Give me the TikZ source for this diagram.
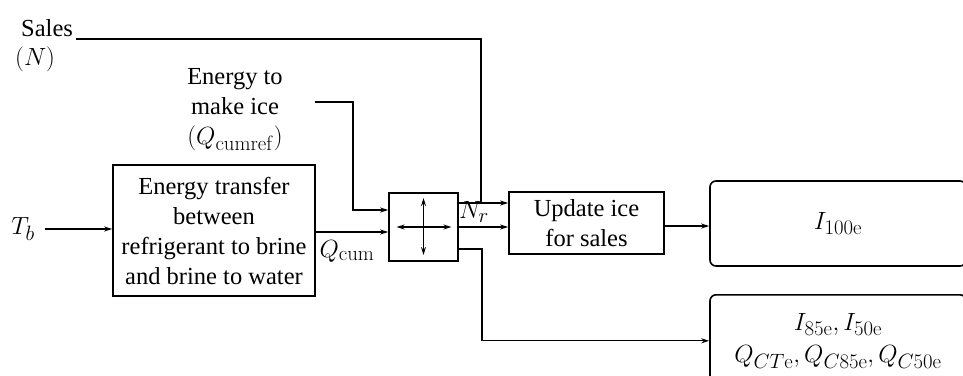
\documentclass[tikz,border=0pt]{standalone}
\usepackage[no-math]{fontspec}
\setmainfont{Liberation Serif}
\usetikzlibrary{arrows.meta}
\newcommand{\mth}[1]{{\fontsize{28}{30}\selectfont$#1$}}
\begin{document}
\begin{tikzpicture}[x=1pt,y=-1pt,
  box/.style={draw, line width=1.6pt, inner sep=0pt, align=center, font=\fontsize{24.5}{30}\selectfont},
  lbl/.style={inner sep=0pt, align=center, font=\fontsize{24.5}{30}\selectfont},
  arr/.style={line width=1.3pt, -{Stealth[length=8pt,width=5pt]}},
  dbl/.style={line width=1.3pt, {Stealth[length=8pt,width=5pt]}-{Stealth[length=8pt,width=5pt]}},
  ln/.style={line width=1.3pt}]
\useasboundingbox (0,0) rectangle (963,375);
\clip (0,0) rectangle (963,375);
% texts
\node[lbl, anchor=base west] (sales) at (21,36) {Sales};
\node[lbl, anchor=base west] (salesN) at (15,65) {\mth{(N)}};
\node[lbl] (ice) at (235,110) {Energy to\\make ice\\\mth{(Q_{\mathrm{cumref}})}};
\node[lbl] (tb) at (23,229) {\mth{T_b}};
% boxes
\node[box, minimum width=202, minimum height=131] (et) at (214,230.5) {Energy transfer\\between\\refrigerant to brine\\and brine to water};
\node[box, minimum width=69, minimum height=68] (mix) at (423.5,227) {};
\node[box, minimum width=155, minimum height=62] (upd) at (586.5,223) {Update ice\\for sales};
\node[box, rounded corners=6pt, minimum width=256, minimum height=85] (ione) at (838,223.5) {\mth{I_{100\mathrm{e}}}};
\node[box, rounded corners=6pt, minimum width=256, minimum height=92, anchor=north] (itwo) at (838,294) {\mth{I_{85\mathrm{e}}, I_{50\mathrm{e}}}\\[2pt]\mth{Q_{CT\mathrm{e}}, Q_{C85\mathrm{e}}, Q_{C50\mathrm{e}}}};
% labels
\node[lbl] (qcum) at (347,251) {\mth{Q_{\mathrm{cum}}}};
\node[lbl] (nr) at (474,212) {\mth{N_r}};
% cross inside mixer
\draw[dbl] ([xshift=-27pt]mix.center) -- ([xshift=28pt]mix.center);
\draw[dbl] ([yshift=29pt]mix.center) -- ([yshift=-28pt]mix.center);
% coordinates
\coordinate (salesout) at (76,39);
\coordinate (iceout) at (315,102);
\coordinate (nj) at (481,203);
% connectors
\draw[arr, shorten <=10pt] (tb.east) -- (tb.east -| et.west);
\draw[arr] ([yshift=-5pt]mix.west -| et.east) -- ([yshift=-5pt]mix.west);
\draw[arr] (iceout) -- (353,102) |- ([yshift=17pt]mix.west);
\draw[ln] (salesout) -| (nj);
\draw[arr] ([yshift=24pt]mix.east) -- ([yshift=24pt]mix.east -| upd.west);
\draw[arr] (mix.east) -- (mix.east -| upd.west);
\draw[arr] ([yshift=-22pt]mix.east) -- (482,249) |- (itwo.west);
\draw[arr] ([yshift=-3pt]upd.east) -- ([yshift=-3pt]upd.east -| ione.west);
\end{tikzpicture}
\end{document}
